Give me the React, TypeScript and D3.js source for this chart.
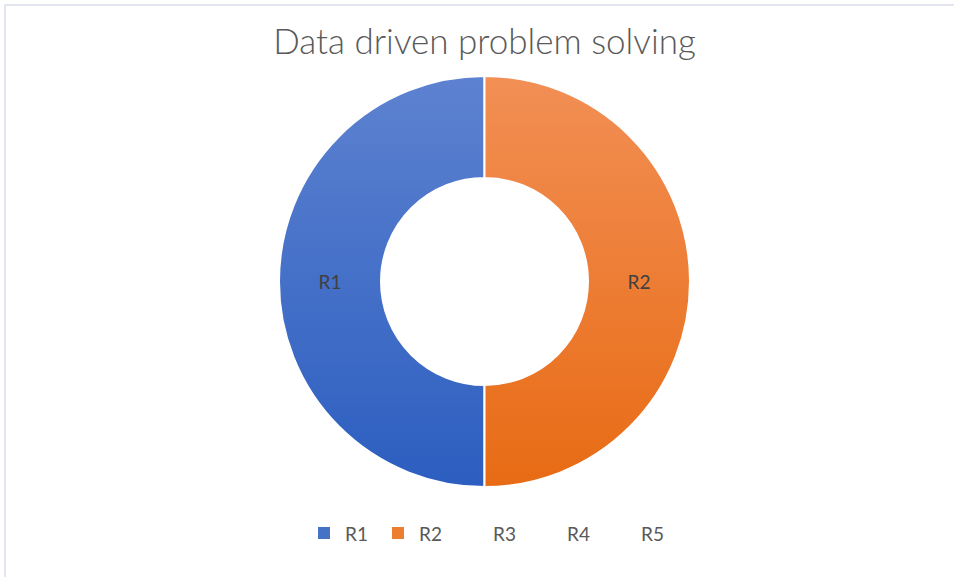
import React from "react";
import * as d3 from "d3";

const title = "Data driven problem solving";
const categories = ["R1", "R2", "R3", "R4", "R5"];
const values = [1, 1, 0, 0, 0];
const topColors = ["#5d82d0", "#f28f55", "#a5a5a5", "#ffc000", "#5b9bd5"];
const bottomColors = ["#2c5ec0", "#e86b14", "#8c8c8c", "#e0a800", "#3f7fc0"];
const legendColors = ["#4472c4", "#ed7d31", "#a5a5a5", "#ffc000", "#5b9bd5"];

const W = 954;
const H = 577;

export default function App() {
  const cx = 484.5;
  const cy = 281.5;
  const outerR = 205.5;
  const innerR = 103.5;
  const pie = d3
    .pie<number>()
    .sort(null)
    .startAngle(Math.PI)
    .endAngle(3 * Math.PI)(values);
  const arc = d3.arc<d3.PieArcDatum<number>>().innerRadius(innerR).outerRadius(outerR);
  const legendX = d3.scalePoint<string>().domain(categories).range([318, 614]);
  const font = "Lato, 'Open Sans', sans-serif";
  return (
    <svg width={W} height={H} style={{ position: "absolute", left: 0, top: 0 }} fontFamily={font}>
      <defs>
        {categories.map((c, i) => (
          <linearGradient key={c} id={`g${i}`} gradientUnits="userSpaceOnUse" x1={0} y1={-outerR} x2={0} y2={outerR}>
            <stop offset="0" stopColor={topColors[i]} />
            <stop offset="1" stopColor={bottomColors[i]} />
          </linearGradient>
        ))}
      </defs>
      <rect x={0} y={0} width={W} height={H} fill="#fff" />
      <rect x={5} y={5} width={W + 10} height={H + 10} fill="none" stroke="#e3e6ee" strokeWidth={2} />
      <text x={cx} y={54} textAnchor="middle" fontSize={35} fontWeight={300} fill="#595959">
        {title}
      </text>
      <g transform={`translate(${cx},${cy})`}>
        {pie.map((d, i) =>
          d.value > 0 ? (
            <path key={i} d={arc(d) || ""} fill={`url(#g${i})`} stroke="#fff" strokeWidth={2} />
          ) : null
        )}
        {pie.map((d, i) => {
          if (d.value <= 0) return null;
          const [x, y] = arc.centroid(d);
          return (
            <text key={"l" + i} x={x} y={y} textAnchor="middle" dominantBaseline="central" fontSize={19} fill="#404040">
              {categories[i]}
            </text>
          );
        })}
      </g>
      {categories.map((c, i) => {
        const x = legendX(c) as number;
        return (
          <g key={"lg" + i} transform={`translate(${x},533)`}>
            {values[i] > 0 ? <rect x={0} y={-6} width={12} height={12} fill={legendColors[i]} /> : null}
            <text x={27} y={0} dominantBaseline="central" fontSize={19} fill="#595959">
              {c}
            </text>
          </g>
        );
      })}
    </svg>
  );
}
